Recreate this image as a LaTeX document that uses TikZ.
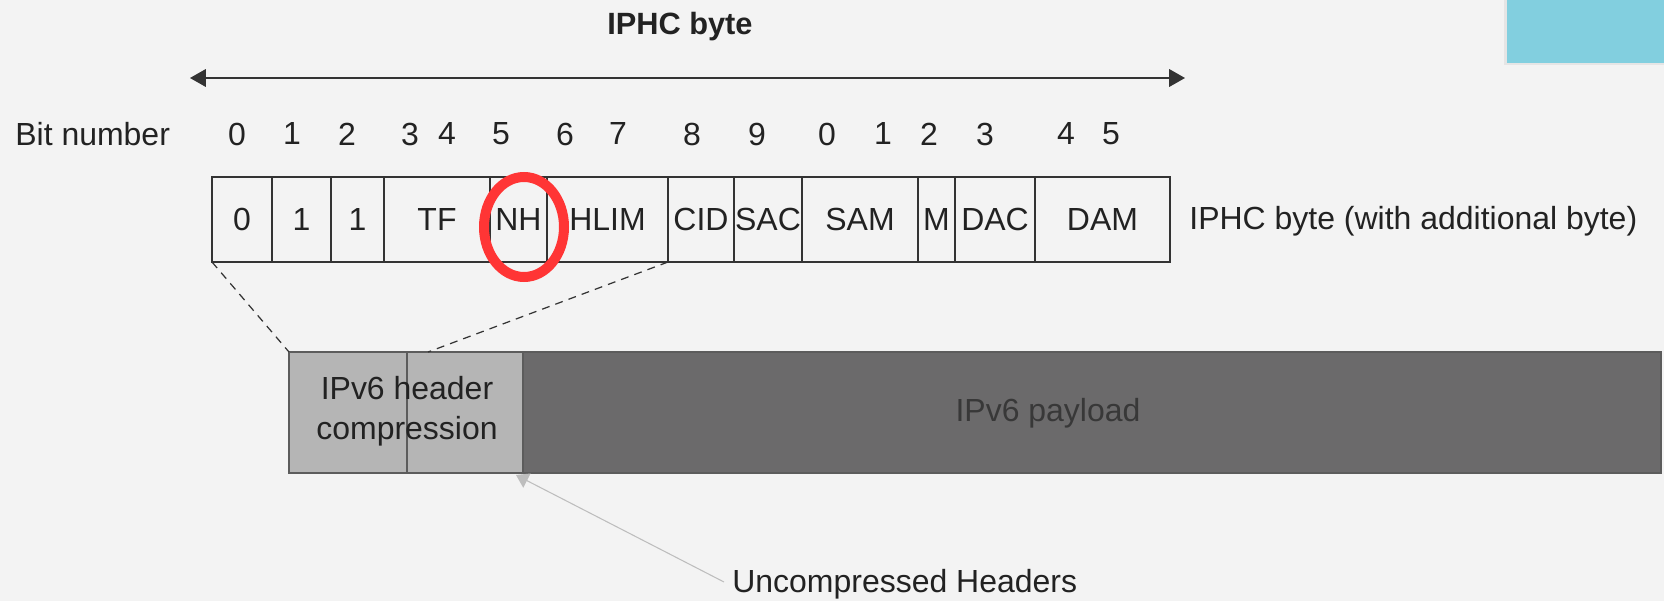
\documentclass[tikz,border=0pt]{standalone}
\usepackage{fontspec}
\setmainfont{Liberation Sans}
\usetikzlibrary{arrows.meta}
\definecolor{bgc}{HTML}{F3F3F3}
\definecolor{linec}{HTML}{333333}
\definecolor{txtc}{HTML}{222222}
\definecolor{hdrc}{HTML}{B5B5B5}
\definecolor{payc}{HTML}{6B6A6B}
\definecolor{redc}{HTML}{FF3535}
\definecolor{cyanc}{HTML}{82CFDF}
\definecolor{arrc}{HTML}{BDBDBD}
\tikzset{
  txt/.style={font=\fontsize{18.2}{21}\selectfont, text=txtc, inner sep=0pt},
  cellbox/.style={draw=linec, line width=0.7pt, minimum height=85*0.02cm, inner sep=0pt, outer sep=0pt,
    font=\fontsize{18.2}{21}\selectfont, text=txtc},
  hdrbox/.style={draw=linec!80, line width=0.8pt, fill=hdrc, minimum height=121*0.02cm, inner sep=0pt, outer sep=0pt},
  paybox/.style={draw=linec!80, line width=0.8pt, fill=payc, minimum height=121*0.02cm, inner sep=0pt, outer sep=0pt},
  dashline/.style={draw=linec, line width=0.7pt, dash pattern=on 4.5pt off 3.5pt},
  bit/.style={txt, anchor=center}
}
\newcommand\mycell[4]{\node[cellbox, minimum width=#3*0.02cm] (#1) at (#2,219.5) {#4};}
\begin{document}
\begin{tikzpicture}[x=0.02cm, y=-0.02cm]
\fill[bgc] (0,0) rectangle (1664,601);
\useasboundingbox (0,0) rectangle (1664,601);
% cyan box top-right
\fill[black!10] (1504,0) rectangle (1664,65);
\node[fill=cyanc, minimum width=157*0.02cm, minimum height=63*0.02cm, inner sep=0pt, outer sep=0pt, anchor=north west] (cyan) at (1507,0) {};
% title
\node[txt, font=\bfseries\fontsize{17.5}{21}\selectfont] (title) at (680,27) {IPHC byte};
% double arrow
\coordinate (al) at (190,78);
\coordinate (ar) at (1185,78);
\draw[linec, line width=0.9pt, {Triangle[length=9pt,width=10pt]}-{Triangle[length=9pt,width=10pt]}] (al) -- (ar);
% bit numbers
\node[txt, anchor=west] (bitlbl) at (15,134) {Bit number};
\foreach \x/\d [count=\i] in {237/0,292/1,347/2,410/3,447/4,501/5,565/6,618/7,692/8,757/9,827/0,883/1,929/2,985/3,1066/4,1111/5}
  \node[bit] (b\i) at (\x,134) {\d};
% cells
\mycell{c0}{242}{60}{0}
\mycell{c1}{301.5}{59}{1}
\mycell{c2}{357.5}{53}{1}
\mycell{tf}{437}{106}{TF}
\mycell{nh}{518.5}{57}{NH}
\mycell{hlim}{607.5}{121}{HLIM}
\mycell{cid}{701}{66}{CID}
\mycell{sac}{768}{68}{SAC}
\mycell{sam}{860}{116}{SAM}
\mycell{m}{936.5}{37}{M}
\mycell{dac}{995}{80}{DAC}
\mycell{dam}{1102.5}{135}{DAM}
\node[txt, anchor=west] (rowlbl) at (1189,221) {IPHC byte (with additional byte)};
% lower boxes
\node[hdrbox, minimum width=118*0.02cm] (h1) at (348,412.5) {};
\node[hdrbox, minimum width=116*0.02cm] (h2) at (465,412.5) {};
\node[paybox, minimum width=1138*0.02cm] (pay) at (1092,412.5) {};
\node[txt, align=center, font=\fontsize{18.2}{22.5}\selectfont] (hdrtxt) at (407,411) {IPv6 header\\compression};
\node[txt, text=txtc!90] (paytxt) at (1048,413) {IPv6 payload};
% dashed connectors
\coordinate (dend) at (428,352);
\draw[dashline] (c0.south west) -- (h1.north west);
\draw[dashline] (hlim.south east) -- (dend);
% red circle on NH
\draw[redc, line width=0.2cm] (524,227) ellipse [x radius=40, y radius=50];
% uncompressed headers
\node[txt, anchor=west] (unc) at (732,584) {Uncompressed Headers};
\draw[arrc, line width=0.6pt, -{Triangle[length=7pt,width=9pt]}] (unc.west) ++(-8,-2) coordinate (us) -- (516,475);
\end{tikzpicture}
\end{document}
